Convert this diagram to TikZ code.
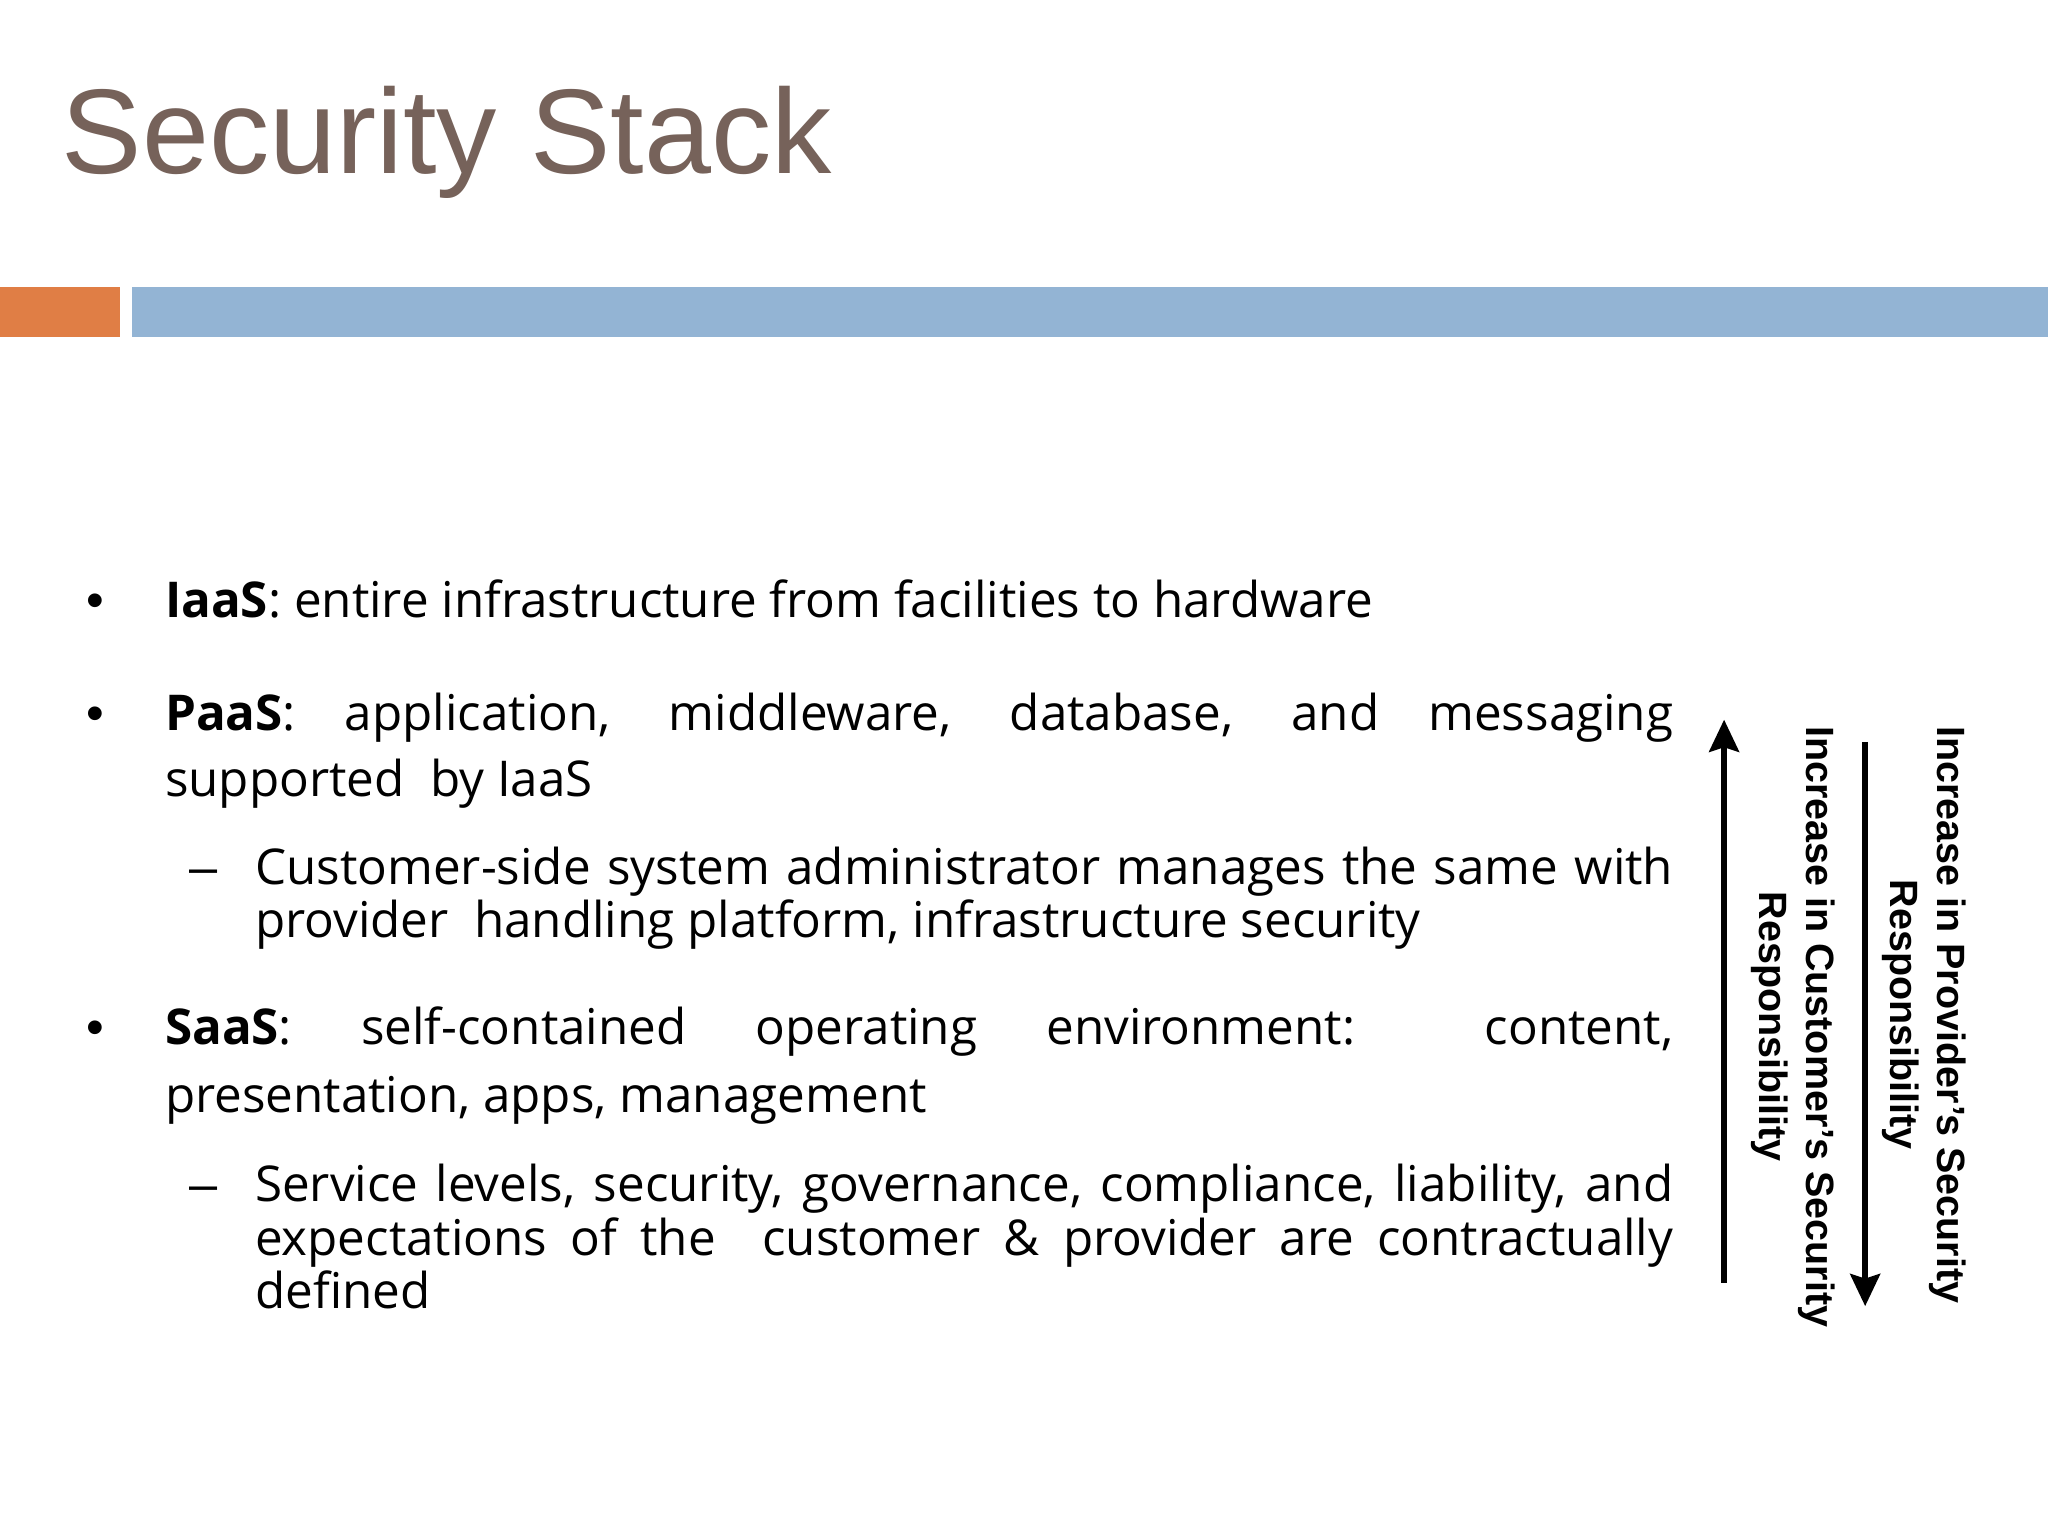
\documentclass[tikz,border=0pt]{standalone}
\usepackage{fontspec}
\setmainfont{Open Sans}
\newfontfamily\arialf{Liberation Sans}
\definecolor{titlec}{HTML}{76625A}
\definecolor{orangebar}{HTML}{E07E45}
\definecolor{bluebar}{HTML}{93B4D4}
\usetikzlibrary{arrows.meta}
\tikzset{
 ln/.style={anchor=base west,inner sep=0pt,font=\fontsize{21.5}{26}\selectfont},
 bul/.style={anchor=base west,inner sep=0pt,font=\arialf\fontsize{22}{26}\selectfont},
 rot/.style={rotate=-90,align=center,inner sep=0pt,font=\arialf\bfseries\fontsize{17.2}{20.5}\selectfont},
 arr/.style={line width=2.4pt,-{Stealth[length=14pt,width=13pt,inset=2pt]}}
}
\newcommand{\fullA}[1]{\makebox[23.1cm][s]{#1}}
\newcommand{\fullB}[1]{\makebox[21.72cm][s]{#1}}
\begin{document}
\begin{tikzpicture}[x=0.02cm,y=-0.02cm]
\useasboundingbox (0,0) rectangle (1568,1176);
\fill[white] (0,0) rectangle (1568,1176);
\node[anchor=base west,inner sep=0pt,text=titlec,font=\arialf\fontsize{52.5}{60}\selectfont] (title) at (47,133) {Security Stack};
\fill[orangebar] (0,220) rectangle (92,258);
\fill[bluebar] (101,220) rectangle (1568,258);
\node[bul] (b1) at (66,473) {•};
\node[ln] (p1) at (126,473) {\textbf{IaaS}: entire infrastructure from facilities to hardware};
\node[bul] (b2) at (66,559) {•};
\node[ln] (p2a) at (126,559) {\fullA{\textbf{PaaS}: application, middleware, database, and messaging}};
\node[ln] (p2b) at (126,610) {supported\ \ by IaaS};
\node[bul] (dA) at (145,677) {–};
\node[ln] (s1a) at (195,677) {\fullB{Customer-side system administrator manages the same with}};
\node[ln] (s1b) at (195,718) {provider\ \ handling platform, infrastructure security};
\node[bul] (b3) at (66,800) {•};
\node[ln] (p3a) at (126,800) {\fullA{\textbf{SaaS}: self-contained operating environment: content,}};
\node[ln] (p3b) at (126,852) {presentation, apps, management};
\node[bul] (dB) at (145,920) {–};
\node[ln] (s2a) at (195,920) {\fullB{Service levels, security, governance, compliance, liability, and}};
\node[ln] (s2b) at (195,961) {\fullB{expectations of the\ \ customer \& provider are contractually}};
\node[ln] (s2c) at (195,1002) {defined};
\coordinate (u0) at (1320,982); \coordinate (u1) at (1320,551);
\coordinate (d0) at (1428,568); \coordinate (d1e) at (1428,1000);
\draw[arr] (u0) -- (u1);
\draw[arr] (d0) -- (d1e);
\node[rot] (prov) at (1473,777) {Increase in Provider’s Security\\Responsibility};
\node[rot] (cust) at (1373,786) {Increase in Customer’s Security\\Responsibility};
\end{tikzpicture}
\end{document}
